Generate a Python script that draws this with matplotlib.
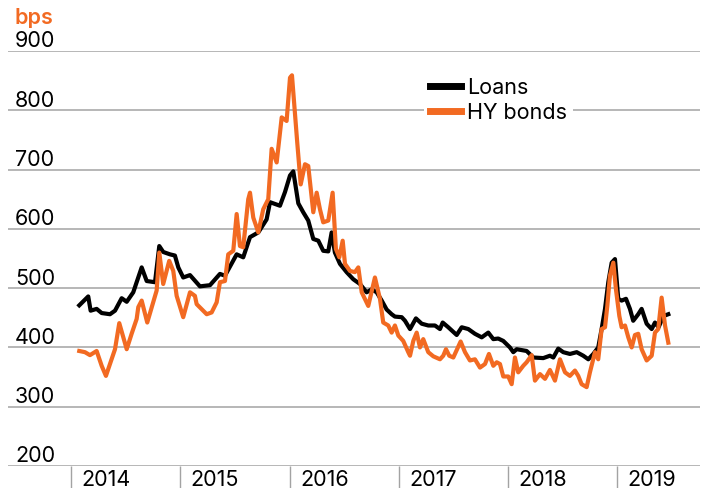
import matplotlib
matplotlib.use("Agg")
import matplotlib.pyplot as plt
import numpy as np

plt.rcParams['font.family'] = ['Inter', 'DejaVu Sans']

ORANGE = '#F26A22'
GRID = '#A3A3A3'

# time as decimal years, spreads in bps
loans_t = [2014.076, 2014.158, 2014.180, 2014.235, 2014.281, 2014.357, 2014.403, 2014.464,
           2014.510, 2014.570, 2014.601, 2014.647, 2014.693, 2014.769, 2014.808, 2014.844,
           2014.906, 2014.951, 2014.982, 2015.027, 2015.089, 2015.180, 2015.272, 2015.363,
           2015.409, 2015.516, 2015.576, 2015.638, 2015.714, 2015.790, 2015.821, 2015.912,
           2015.958, 2016.004, 2016.034, 2016.080, 2016.125, 2016.171, 2016.217, 2016.263,
           2016.308, 2016.354, 2016.385, 2016.415, 2016.461, 2016.522, 2016.583, 2016.644,
           2016.705, 2016.751, 2016.797, 2016.843, 2016.888, 2016.934, 2016.964, 2017.026,
           2017.056, 2017.102, 2017.156, 2017.209, 2017.269, 2017.330, 2017.376, 2017.401,
           2017.452, 2017.529, 2017.575, 2017.635, 2017.696, 2017.758, 2017.818, 2017.864,
           2017.909, 2017.955, 2018.016, 2018.047, 2018.078, 2018.169, 2018.230, 2018.321,
           2018.382, 2018.413, 2018.458, 2018.504, 2018.565, 2018.627, 2018.687, 2018.733,
           2018.779, 2018.824, 2018.855, 2018.886, 2018.916, 2018.947, 2018.977, 2019.007,
           2019.038, 2019.078, 2019.114, 2019.144, 2019.190, 2019.221, 2019.267, 2019.313,
           2019.343, 2019.376, 2019.421, 2019.465]
loans = [471, 486, 462, 465, 458, 456, 462, 483,
         477, 493, 510, 535, 512, 510, 571, 561,
         557, 555, 535, 518, 522, 503, 505, 524,
         521, 557, 552, 586, 594, 616, 645, 639,
         662, 690, 697, 643, 628, 614, 583, 580,
         563, 562, 594, 560, 541, 527, 515, 507,
         493, 498, 493, 479, 464, 456, 452, 451,
         445, 431, 449, 440, 437, 437, 431, 442,
         434, 421, 434, 431, 423, 417, 425, 414,
         415, 411, 400, 392, 397, 394, 383, 382,
         386, 383, 398, 392, 389, 392, 386, 380,
         389, 400, 431, 465, 510, 543, 549, 482,
         479, 482, 465, 445, 456, 465, 440, 431,
         442, 434, 453, 456]

hy_t = [2014.076, 2014.128, 2014.174, 2014.235, 2014.281, 2014.320, 2014.357, 2014.403,
        2014.442, 2014.510, 2014.555, 2014.601, 2014.616, 2014.647, 2014.698, 2014.784,
        2014.808, 2014.844, 2014.899, 2014.936, 2014.967, 2015.027, 2015.089, 2015.134,
        2015.150, 2015.242, 2015.287, 2015.333, 2015.363, 2015.409, 2015.439, 2015.485,
        2015.516, 2015.546, 2015.576, 2015.622, 2015.638, 2015.668, 2015.714, 2015.759,
        2015.805, 2015.836, 2015.882, 2015.928, 2015.973, 2016.004, 2016.022, 2016.070,
        2016.102, 2016.141, 2016.171, 2016.217, 2016.248, 2016.278, 2016.308, 2016.354,
        2016.394, 2016.424, 2016.455, 2016.486, 2016.507, 2016.553, 2016.598, 2016.629,
        2016.660, 2016.720, 2016.781, 2016.827, 2016.857, 2016.903, 2016.934, 2016.964,
        2016.995, 2017.040, 2017.086, 2017.102, 2017.132, 2017.163, 2017.193, 2017.223,
        2017.269, 2017.315, 2017.376, 2017.406, 2017.431, 2017.461, 2017.498, 2017.565,
        2017.605, 2017.650, 2017.696, 2017.742, 2017.788, 2017.824, 2017.864, 2017.895,
        2017.925, 2017.955, 2018.001, 2018.032, 2018.062, 2018.092, 2018.138, 2018.169,
        2018.215, 2018.245, 2018.291, 2018.337, 2018.382, 2018.428, 2018.474, 2018.520,
        2018.565, 2018.611, 2018.641, 2018.672, 2018.718, 2018.748, 2018.794, 2018.824,
        2018.855, 2018.886, 2018.907, 2018.931, 2018.962, 2018.986, 2019.017, 2019.038,
        2019.069, 2019.099, 2019.130, 2019.160, 2019.190, 2019.221, 2019.267, 2019.313,
        2019.343, 2019.373, 2019.404, 2019.435, 2019.465]
hy = [394, 392, 387, 394, 369, 352, 372, 397,
      441, 397, 423, 448, 468, 479, 442, 496,
      560, 507, 546, 529, 487, 451, 493, 487,
      473, 456, 459, 476, 510, 512, 557, 563,
      625, 571, 569, 650, 661, 619, 594, 633,
      650, 735, 712, 788, 782, 855, 859, 746,
      675, 709, 706, 628, 661, 633, 611, 614,
      661, 566, 552, 580, 541, 529, 527, 535,
      493, 470, 518, 482, 442, 437, 425, 437,
      420, 411, 392, 386, 411, 425, 400, 414,
      392, 385, 380, 386, 397, 386, 383, 410,
      392, 378, 380, 366, 372, 389, 369, 375,
      372, 351, 351, 338, 383, 358, 369, 375,
      387, 344, 355, 347, 362, 344, 380, 358,
      352, 361, 352, 338, 333, 358, 392, 380,
      431, 434, 470, 521, 543, 498, 453, 434,
      437, 417, 400, 421, 423, 397, 378, 386,
      425, 431, 484, 437, 408]

years = [2014, 2015, 2016, 2017, 2018, 2019]
yticks = [200, 300, 400, 500, 600, 700, 800, 900]

fig = plt.figure(figsize=(7.05, 4.89), dpi=100)
ax = fig.add_axes([8 / 705, 22 / 489, 692 / 705, 415 / 489])

ax.plot(loans_t, loans, color='black', lw=3, solid_joinstyle='round', label='Loans', zorder=3)
ax.plot(hy_t, hy, color=ORANGE, lw=3, solid_joinstyle='round', label='HY bonds', zorder=4)

ax.set_xlim(2013.424, 2019.755)
ax.set_ylim(200, 900)

for s in ax.spines.values():
    s.set_visible(False)

ax.set_yticks(yticks)
ax.set_yticklabels([])
ax.tick_params(axis='y', length=0)
ax.grid(axis='y', color=GRID, lw=1.1)
ax.set_axisbelow(True)
for v in yticks:
    ax.text(0.01, v + 1, str(v), transform=ax.get_yaxis_transform(),
            ha='left', va='bottom', fontsize=15.5, color='black')

# year ticks hang below the axis, labels sit just right of each tick
ax.set_xticks(years)
ax.set_xticklabels([])
ax.tick_params(axis='x', which='major', length=22, width=1, color=GRID)
for y in years:
    ax.text(y + 0.095, -0.008, str(y), transform=ax.get_xaxis_transform(),
            ha='left', va='top', fontsize=15.5, color='black')

fig.text(15 / 705, 1 - 18 / 489, 'bps', color=ORANGE, fontsize=15.5,
         fontweight='semibold', ha='left', va='center')

leg = ax.legend(loc='upper left', bbox_to_anchor=(0.586, 0.976), frameon=True,
                facecolor='white', edgecolor='none', framealpha=1, fontsize=15.5,
                handlelength=1.45, handletextpad=0.3, labelspacing=0.25,
                borderpad=0.25, fancybox=False)
for h in leg.get_lines():
    h.set_linewidth(5)

fig.savefig('out.png', dpi=100)
